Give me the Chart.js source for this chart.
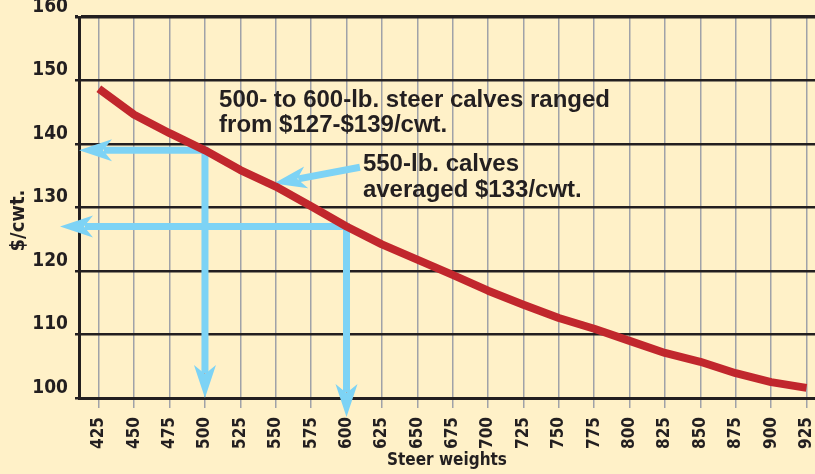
<!DOCTYPE html>
<html>
<head>
<meta charset="utf-8">
<title>Steer weights</title>
<script src="https://cdn.jsdelivr.net/npm/chart.js@4.4.1/dist/chart.umd.min.js"></script>
<style>
    body { margin: 0; background: #fff1c8; }
    #contenedor { width: 815px; height: 474px; }
</style>
</head>
<body>
<div id="contenedor"><canvas id="grafico"></canvas></div>
<script>
// datos
const pesos = [425, 450, 475, 500, 525, 550, 575, 600, 625, 650, 675, 700, 725, 750, 775, 800, 825, 850, 875, 900, 925];
const precios = [148.7, 144.6, 141.7, 139, 135.9, 133.3, 130.2, 127, 124.2, 121.8, 119.4, 116.9, 114.7, 112.6, 110.9, 109, 107.1, 105.7, 103.9, 102.5, 101.6];
const ticksPrecio = [100, 110, 120, 130, 140, 150, 160];
const rangoPesos = [500, 600];
const rangoPrecios = [139, 127];
const promedioPeso = 550;
const promedioPrecio = 133;
const textoRango = ['500- to 600-lb. steer calves ranged', 'from $127-$139/cwt.'];
const textoPromedio = ['550-lb. calves', 'averaged $133/cwt.'];

const fondo = '#fff1c8';
const azul = '#7dd3f5';
const tinta = '#231f20';
const rojo = '#c1272d';
const angosta = "'Liberation Sans Narrow', 'DejaVu Sans Condensed', sans-serif";

function dibujarPunta(ctx, x, y, angulo) {
    ctx.save();
    ctx.translate(x, y);
    ctx.rotate(angulo);
    ctx.beginPath();
    ctx.moveTo(0, 0);
    ctx.lineTo(-33, -11);
    ctx.lineTo(-24, 0);
    ctx.lineTo(-33, 11);
    ctx.closePath();
    ctx.fill();
    ctx.restore();
}

const pluginFondo = {
    id: 'fondo',
    beforeDraw(chart) {
        const ctx = chart.ctx;
        ctx.save();
        ctx.fillStyle = fondo;
        ctx.fillRect(0, 0, chart.width, chart.height);
        ctx.restore();
    }
};

const pluginFlechas = {
    id: 'flechas',
    beforeDatasetsDraw(chart) {
        const ctx = chart.ctx;
        const x = chart.scales.x;
        const y = chart.scales.y;
        const area = chart.chartArea;
        const puntasIzq = [area.left, area.left - 19];
        const puntasAbajo = [area.bottom, area.bottom + 19];

        ctx.save();
        ctx.strokeStyle = azul;
        ctx.fillStyle = azul;
        ctx.lineWidth = 7;
        ctx.lineJoin = 'miter';

        rangoPesos.forEach((peso, i) => {
            const px = x.getPixelForValue(peso);
            const py = y.getPixelForValue(rangoPrecios[i]);
            ctx.beginPath();
            ctx.moveTo(puntasIzq[i] + 25, py);
            ctx.lineTo(px, py);
            ctx.lineTo(px, puntasAbajo[i] - 25);
            ctx.stroke();
            dibujarPunta(ctx, puntasIzq[i], py, Math.PI);
            dibujarPunta(ctx, px, puntasAbajo[i], Math.PI / 2);
        });

        // flecha del promedio
        const tx = x.getPixelForValue(611.6) - 3;
        const ty = y.getPixelForValue(135.7) - 4;
        const fx = x.getPixelForValue(promedioPeso) - 2;
        const fy = y.getPixelForValue(promedioPrecio) - 5;
        const angulo = Math.atan2(fy - ty, fx - tx);
        ctx.beginPath();
        ctx.moveTo(tx, ty);
        ctx.lineTo(fx - Math.cos(angulo) * 25, fy - Math.sin(angulo) * 25);
        ctx.stroke();
        dibujarPunta(ctx, fx, fy, angulo);
        ctx.restore();
    },
    afterDatasetsDraw(chart) {
        const ctx = chart.ctx;
        const x = chart.scales.x;
        const y = chart.scales.y;
        const area = chart.chartArea;

        ctx.save();
        ctx.fillStyle = tinta;
        ctx.font = "bold 24px 'Liberation Sans', Arial, sans-serif";
        ctx.textAlign = 'left';
        ctx.textBaseline = 'alphabetic';
        textoRango.forEach((linea, i) => {
            ctx.fillText(linea, x.getPixelForValue(510), y.getPixelForValue(145.8) + i * 25);
        });
        textoPromedio.forEach((linea, i) => {
            ctx.fillText(linea, x.getPixelForValue(611.6), y.getPixelForValue(135.7) + i * 26);
        });

        // titulo del eje y
        ctx.font = 'bold 20px ' + angosta;
        ctx.textAlign = 'center';
        ctx.textBaseline = 'middle';
        ctx.translate(area.left - 60, (area.top + area.bottom) / 2 + 13);
        ctx.rotate(-Math.PI / 2);
        ctx.fillText('$/cwt.', 0, 0);
        ctx.restore();
    }
};

const datos = pesos.map((peso, i) => ({ x: peso, y: precios[i] }));

new Chart(document.getElementById('grafico'), {
    type: 'line',
    data: {
        datasets: [{
            data: datos,
            borderColor: rojo,
            borderWidth: 8,
            borderCapStyle: 'butt',
            borderJoinStyle: 'round',
            pointRadius: 0,
            tension: 0
        }]
    },
    options: {
        responsive: true,
        maintainAspectRatio: false,
        animation: false,
        layout: { autoPadding: false, padding: { top: 17, left: 0, right: 0, bottom: 0 } },
        plugins: {
            legend: { display: false },
            tooltip: { enabled: false }
        },
        scales: {
            x: {
                type: 'linear',
                min: 411,
                max: 931,
                afterBuildTicks: escala => { escala.ticks = pesos.map(v => ({ value: v })); },
                afterFit: escala => { escala.height = 76; escala.paddingLeft = 0; escala.paddingRight = 0; },
                grid: { color: '#a0a2a8', lineWidth: 1.5, tickLength: 10 },
                border: { display: true, color: tinta, width: 3 },
                ticks: {
                    autoSkip: false,
                    minRotation: 90,
                    maxRotation: 90,
                    padding: 9,
                    color: tinta,
                    font: { family: angosta, size: 17, weight: 'bold' },
                    callback: v => String(v)
                },
                title: {
                    display: true,
                    text: 'Steer weights',
                    color: tinta,
                    font: { family: angosta, size: 17, weight: 'bold' },
                    padding: { top: 0, bottom: 3 }
                }
            },
            y: {
                min: 100,
                max: 160,
                afterBuildTicks: escala => { escala.ticks = ticksPrecio.map(v => ({ value: v })); },
                afterFit: escala => { escala.width = 79; escala.paddingTop = 0; escala.paddingBottom = 0; },
                grid: {
                    color: tinta,
                    lineWidth: c => (c.tick && c.tick.value === 160 ? 3.5 : 2.5),
                    tickLength: 4
                },
                border: { display: true, color: tinta, width: 3 },
                ticks: {
                    padding: 7,
                    labelOffset: -10,
                    color: tinta,
                    font: { family: angosta, size: 19, weight: 'bold' }
                }
            }
        }
    },
    plugins: [pluginFondo, pluginFlechas]
});
</script>
</body>
</html>
